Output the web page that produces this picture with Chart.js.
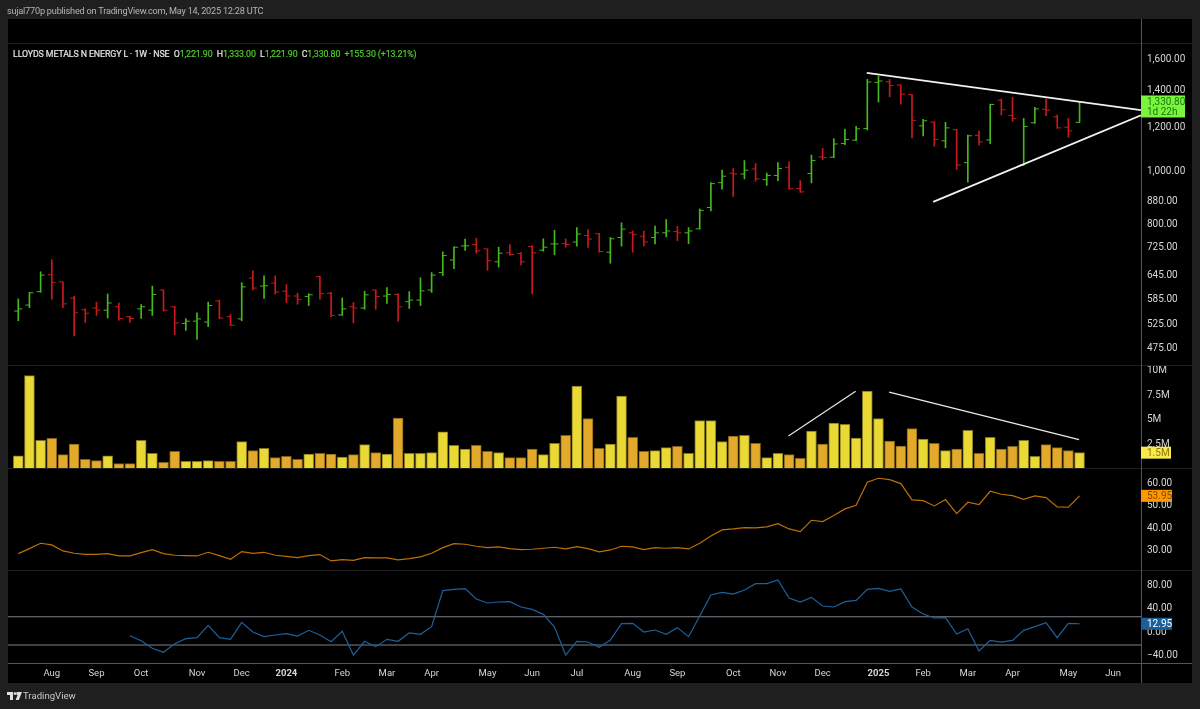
<!DOCTYPE html>
<html><head><meta charset="utf-8">
<style>
html,body{margin:0;padding:0;width:1200px;height:709px;overflow:hidden;background:#1f1f1f}
#panel{position:absolute;left:8px;top:19px;width:1184px;height:664px;background:#000}
canvas{position:absolute;left:0;top:0}
.t{position:absolute;white-space:pre;font-family:Roboto,sans-serif}
#pub{left:7px;top:4px;font-size:9.2px;letter-spacing:-0.23px;line-height:14px;color:#b4b4b4}
#ttl{left:13px;top:48px;font-size:8.8px;letter-spacing:-0.1px;line-height:12px;color:#e4e4e4;-webkit-text-stroke:0.2px #e4e4e4}
#ttl b{font-weight:normal;color:#4fcb2c;-webkit-text-stroke:0.2px #4fcb2c}
#foot{left:23px;top:689px;font-size:9.6px;line-height:14px;color:#c8c8c8}
#logo{position:absolute;left:7px;top:692px}
</style></head><body>
<div id="panel"></div>
<canvas id="c" width="1200" height="709"></canvas>
<div class="t" id="pub">sujal770p published on TradingView.com, May 14, 2025 12:28 UTC</div>
<div class="t" id="ttl">LLOYDS METALS N ENERGY L · 1W · NSE  O<b>1,221.90</b>  H<b>1,333.00</b>  L<b>1,221.90</b>  C<b>1,330.80</b>  <b>+155.30 (+13.21%)</b></div>
<svg id="logo" width="15" height="9" viewBox="0 0 15 9"><path fill="#e0e0e0" d="M0 0h6v8H3V3H0zM9.5 0H15l-3.2 8H8.6l2-5H9.5z"/><circle cx="8" cy="1.6" r="1.4" fill="#e0e0e0"/></svg>
<div class="t" id="foot">TradingView</div>
<script src="https://cdn.jsdelivr.net/npm/chart.js@4/dist/chart.umd.min.js"></script>
<script>
const opens=[554,568,601,645,626,585,557,561,556,564,541,559,556,605,564,526,531,529,578,541,536,636,615,623,602,590,589,640,597,545,564,561,605,590,594,576,580,605,651,686,728,732,719,681,707,705,726,715,734,735,740,760,766,709,754,769,758,754,769,773,769,782,855,949,987,984,1005,961,978,1012,926,986,1057,1056,1118,1134,1191,1445,1449,1429,1372,1204,1223,1131,1185,1032,1157,1135,1341,1258,1022,1220,1291,1251,1197,1221.9];
const highs=[583,599,653,687,626,589,559,575,595,573,542,569,615,605,565,537,550,575,580,546,624,656,642,642,619,597,596,641,599,585,574,602,605,611,596,601,637,651,710,725,749,752,719,724,732,708,729,750,777,750,786,779,767,754,802,775,775,791,813,790,786,850,949,1000,1007,1041,1028,988,1032,1036,957,1065,1095,1141,1188,1202,1463,1483,1463,1429,1374,1237,1225,1222,1186,1158,1179,1319,1347,1356,1242,1301,1349,1260,1242,1333];
const lows=[532,562,599,582,562,499,528,544,538,533,528,537,544,554,502,511,492,519,537,521,532,605,584,595,574,570,567,582,541,544,527,558,558,572,531,560,567,599,643,662,714,706,657,666,700,672,595,712,701,724,727,723,709,677,727,709,728,734,756,744,735,781,843,923,895,964,955,938,957,923,911,948,1045,1054,1113,1131,1183,1331,1360,1319,1145,1154,1106,1098,1003,951,1112,1118,1260,1227,1020,1216,1256,1192,1148,1221.9];
const closes=[559,598,644,625,571,550,549,556,573,537,537,564,594,556,527,531,536,567,538,522,613,610,616,600,590,581,593,596,544,559,561,593,589,594,564,580,603,644,699,724,728,713,684,706,702,681,707,724,734,732,765,749,711,750,781,763,740,769,775,769,775,844,945,975,984,1000,964,978,1007,925,913,1041,1054,1116,1137,1189,1447,1453,1425,1375,1232,1230,1137,1194,1022,1155,1126,1317,1288,1241,1201,1293,1286,1194,1179,1330.8];
const volumes=[1.25,9.39,2.81,3.02,1.36,2.44,0.88,0.75,1.25,0.44,0.44,2.81,1.49,0.58,1.69,0.68,0.68,0.75,0.68,0.68,2.68,1.76,2.0,1.05,1.19,0.88,1.42,1.49,1.42,1.12,1.36,2.37,1.56,1.42,5.08,1.49,1.49,1.56,3.69,2.31,1.93,2.31,1.69,1.56,1.05,1.05,1.93,1.36,2.51,3.32,8.34,5.02,2.0,2.44,7.32,3.12,1.69,1.76,2.07,2.2,1.49,4.81,4.81,2.68,3.25,3.32,2.51,1.05,1.49,1.36,0.98,3.76,2.44,4.58,4.44,3.05,7.83,5.02,2.75,2.24,4.0,2.95,2.51,1.76,1.93,3.83,1.49,3.12,1.93,2.2,2.81,1.19,2.37,2.07,1.76,1.56];
const rsi=[28.24,30.47,32.84,32.1,29.43,28.39,27.94,27.94,28.24,27.2,27.2,28.69,30.02,28.24,27.5,27.35,27.2,28.83,27.35,25.72,29.13,28.39,28.83,27.5,27.05,26.46,27.35,27.8,24.98,25.57,25.27,26.46,26.31,26.31,25.42,26.01,26.76,28.39,30.91,32.69,32.4,31.51,30.91,31.21,30.47,30.02,30.17,30.62,31.06,30.32,31.36,30.47,28.98,29.87,31.51,31.21,30.02,30.91,30.62,30.91,30.32,32.84,36.11,38.78,39.22,39.82,39.67,40.11,41.6,39.22,38.04,43.08,42.49,45.16,48.13,49.76,60.0,61.78,61.19,59.41,52.13,51.84,49.46,52.28,46.05,51.1,50.06,56.0,54.66,54.06,52.43,53.91,53.17,49.02,48.87,53.95];
const cci=[null,null,null,null,null,null,null,null,null,null,-7.5,-16.1,-29.2,-36.1,-21.2,-12.6,-10.9,10.2,-10.9,-13.8,15.4,-1.2,-9.2,-6.3,-4.1,-8.1,1.7,-6.3,-17.8,0,-40.7,-17.2,-26.4,-13.8,-17.2,-2.9,-5.2,8,69.8,72.1,73.2,55.5,48.6,50.3,50.9,41.7,37.7,29.1,7.4,-40.7,-17.2,-18.4,-27.5,-14.9,13.1,13.7,-1.2,2.2,-5.2,6.3,-9.2,26.3,62.3,66.9,64,70.9,81.8,81.8,88,57.2,50.3,58.3,43.4,41.7,50.9,53.2,72.1,73.8,68.6,72.6,41.7,29.7,22.8,23.4,-4.6,4.5,-33.8,-15.5,-18.4,-15.5,1.7,8,14.8,-10.9,13.7,12.95];
const priceTicks=[1600,1400,1200,1000,880,800,725,645,585,525,475];
const volTicks=[2.5,5,7.5,10];
const rsiTicks=[30,40,50,60];
const cciTicks=[-40,0,40,80];
const timeIdx=[3,7,11,16,20,24,29,33,37,42,46,50,55,59,64,68,72,77,81,85,89,94,98];
const timeLabels=['Aug','Sep','Oct','Nov','Dec','2024','Feb','Mar','Apr','May','Jun','Jul','Aug','Sep','Oct','Nov','Dec','2025','Feb','Mar','Apr','May','Jun'];
const priceTrendUpper=[{x:75.95,y:1504},{x:100.5,y:1285.6}];
const priceTrendLower=[{x:81.9,y:875.3},{x:100.5,y:1259}];
const volTrendUp=[{x:68.94,y:3.25},{x:74.96,y:7.8}];
const volTrendDown=[{x:77.95,y:7.72},{x:94.96,y:2.89}];
const cciBands=[25,-23.5];
const xRange=[-0.92,100.5];

const GREEN='#45b81e',RED='#c8191f',AX='#d6d6d6';
const up=closes.map((c,i)=>c>=opens[i]);
const ohlcCol=up.map(u=>u?GREEN:RED);
const pts=a=>a.map((y,x)=>({x,y}));
const hline=v=>xRange.map(x=>({x,y:v}));
const FONT='Roboto,sans-serif';

function yAxis(stack,weight,min,max,ticks,fmt,type){
  return {type:type||'linear',position:'right',stack,stackWeight:weight,min,max,bounds:'data',
    grid:{display:false,drawTicks:false},
    border:{display:true,color:'#555555',width:1},
    afterFit(s){s.width=51;},
    afterBuildTicks(s){s.ticks=ticks.map(v=>({value:v}));},
    ticks:{autoSkip:false,padding:6,labelOffset:1,color:AX,font:{family:FONT,size:10},callback:fmt,maxRotation:0,align:'center'}};
}
const tagPlugin={id:'frame',
  beforeDatasetsDraw(ch){
    const c=ch.ctx,a=ch.chartArea;
    c.save();c.lineWidth=1;
    c.strokeStyle='#1f1f1f';
    c.beginPath();c.moveTo(8,43.5);c.lineTo(1192,43.5);
    for(const id of ['y','yVol','yRsi']){const b=Math.round(ch.scales[id].bottom)-0.5;c.moveTo(8,b);c.lineTo(1192,b);}
    c.stroke();
    c.strokeStyle='#555555';
    c.beginPath();c.moveTo(8,Math.round(a.bottom)+0.5);c.lineTo(1192,Math.round(a.bottom)+0.5);
    c.moveTo(1141.5,19);c.lineTo(1141.5,683);c.stroke();
    c.restore();
  },
  afterDraw(ch){
    const c=ch.ctx,S=ch.scales;
    const tag=(y,w,h,bg,lines,col)=>{
      c.fillStyle=bg;c.fillRect(1141,y-h/2,w,h);
      c.fillStyle=col;c.font='10px '+FONT;c.textAlign='left';c.textBaseline='middle';
      lines.forEach((t,i)=>c.fillText(t,1147,y+1+(i-(lines.length-1)/2)*10.5));
    };
    c.save();
    const last=closes.length-1;
    tag(S.y.getPixelForValue(closes[last])+4.5,44,22,'#78f53c',['1,330.80','1d 22h'],'#1e7310');
    tag(S.yVol.getPixelForValue(volumes[last]),30,12,'#f8e948',['1.5M'],'#8a7a10');
    tag(S.yRsi.getPixelForValue(rsi[last]),31,12,'#ff9800',['53.95'],'#7a4a00');
    tag(S.yCci.getPixelForValue(cci[last]),31,12,'#1c5f98',['12.95'],'#ffffff');
    c.restore();
  }};
new Chart(document.getElementById('c'),{
  data:{datasets:[
    {type:'bar',label:'Range',yAxisID:'y',xAxisID:'x',grouped:false,barThickness:1,
      data:highs.map((h,i)=>({x:i,y:[lows[i],h]})),backgroundColor:ohlcCol,order:3},
    {type:'line',label:'Open',yAxisID:'y',showLine:false,data:pts(opens),pointStyle:'dash',pointRadius:4,pointRotation:180,pointBorderWidth:1,pointBorderColor:ohlcCol,pointBackgroundColor:ohlcCol,order:2},
    {type:'line',label:'Close',yAxisID:'y',showLine:false,data:pts(closes),pointStyle:'dash',pointRadius:4,pointRotation:0,pointBorderWidth:1,pointBorderColor:ohlcCol,pointBackgroundColor:ohlcCol,order:2},
    {type:'line',label:'Upper trend',yAxisID:'y',data:priceTrendUpper,borderColor:'#f2f2f2',borderWidth:1.8,pointRadius:0,order:1},
    {type:'line',label:'Lower trend',yAxisID:'y',data:priceTrendLower,borderColor:'#f2f2f2',borderWidth:1.8,pointRadius:0,order:1},
    {type:'bar',label:'Volume',yAxisID:'yVol',grouped:false,barThickness:10,data:pts(volumes),
      backgroundColor:up.map(u=>u?'#ead834':'#e3a92b'),borderColor:up.map(u=>u?'#7d741f':'#7e5f18'),borderWidth:1,order:3},
    {type:'line',label:'Volume up',yAxisID:'yVol',data:volTrendUp,borderColor:'#e8e8e8',borderWidth:1.2,pointRadius:0,order:1},
    {type:'line',label:'Volume down',yAxisID:'yVol',data:volTrendDown,borderColor:'#e8e8e8',borderWidth:1.2,pointRadius:0,order:1},
    {type:'line',label:'RSI',yAxisID:'yRsi',data:pts(rsi),borderColor:'#bd6f08',borderWidth:1.2,pointRadius:0,tension:0},
    {type:'line',label:'CCI',yAxisID:'yCci',data:pts(cci),borderColor:'#1f609c',borderWidth:1.2,pointRadius:0,tension:0,spanGaps:false},
    {type:'line',label:'CCI upper',yAxisID:'yCci',data:hline(cciBands[0]),borderColor:'#7c8088',borderWidth:1.2,pointRadius:0},
    {type:'line',label:'CCI lower',yAxisID:'yCci',data:hline(cciBands[1]),borderColor:'#7c8088',borderWidth:1.2,pointRadius:0}
  ]},
  options:{responsive:false,animation:false,devicePixelRatio:1,
    layout:{padding:{left:8,top:44,right:8,bottom:26}},
    plugins:{legend:{display:false},tooltip:{enabled:false}},
    scales:{
      x:{type:'linear',offset:false,position:'bottom',min:xRange[0],max:xRange[1],bounds:'data',
        grid:{display:false,drawTicks:false,offset:false},border:{display:false},
        afterFit(s){s.height=20;},
        afterBuildTicks(s){s.ticks=timeIdx.map(v=>({value:v}));},
        ticks:{autoSkip:false,maxRotation:0,padding:5,color:AX,
          font:c=>({family:FONT,size:9.5,weight:(c.tick&&/^20/.test(c.tick.label))?'bold':'normal'}),
          callback:v=>timeLabels[timeIdx.indexOf(v)]}},
      y:yAxis('p',322,440,1697,priceTicks,v=>v>=1000?'1,'+String(v-1000).padStart(3,'0')+'.00':v+'.00','logarithmic'),
      yVol:yAxis('p',103,-0.1,10.37,volTicks,v=>v+'M'),
      yRsi:yAxis('p',102,20.5,65.9,rsiTicks,v=>v.toFixed(2)),
      yCci:yAxis('p',92,-54.4,103.5,cciTicks,v=>v<0?'\u2212'+Math.abs(v).toFixed(2):v.toFixed(2))
    }},
  plugins:[tagPlugin]
});
</script></body></html>
